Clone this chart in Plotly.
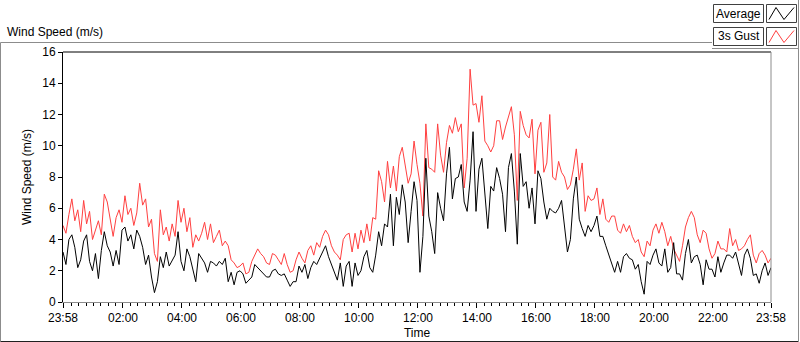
import pandas as pd
import plotly.graph_objects as go

# ---- data (6-minute samples, 23:58 -> 23:58) ----
start_time = "2024-01-01 23:58"
step_minutes = 6

gust = [
    4.9, 4.4, 5.6, 6.6, 5.2, 5.9, 4.5, 6.5, 5.0, 5.8, 4.0, 4.6, 5.2, 4.3, 6.9, 6.4, 5.3, 4.2, 5.4, 5.9,
    5.1, 6.8, 5.6, 6.0, 4.9, 5.7, 7.6, 6.2, 6.6, 4.8, 5.3, 3.1, 2.6, 5.9, 4.3, 4.8, 3.9, 5.0, 4.2, 6.5,
    5.1, 6.0, 4.5, 5.4, 3.5, 4.3, 3.9, 4.4, 5.1, 4.0, 5.0, 3.8, 4.2, 4.6, 3.6, 3.9, 3.6, 2.7, 2.5, 2.2,
    2.3, 2.5, 1.8, 1.9, 2.6, 3.0, 3.4, 3.1, 2.9, 2.5, 2.4, 3.1, 3.0, 2.7, 2.4, 3.1, 2.4, 1.9, 2.0, 2.7,
    3.2, 2.8, 2.5, 3.3, 3.6, 3.0, 3.8, 3.5, 4.2, 4.6, 4.3, 3.6, 3.2, 3.0, 2.7, 4.0, 4.3, 4.4, 3.2, 4.4,
    3.4, 4.6, 3.8, 5.0, 3.9, 5.4, 5.3, 8.4, 7.7, 6.4, 9.0, 7.3, 8.7, 7.1, 9.3, 9.9, 8.6, 7.6, 8.2, 10.3,
    8.8, 7.6, 5.5, 11.4, 8.6, 8.5, 8.3, 11.4, 9.4, 8.3, 10.2, 11.3, 10.8, 11.8, 10.9, 11.4, 7.3, 9.2, 14.9, 12.6,
    12.7, 11.5, 13.2, 10.3, 10.0, 9.6, 10.0, 11.6, 11.6, 10.4, 11.2, 11.8, 12.5, 10.7, 6.5, 12.2, 11.3, 10.7, 10.5, 11.7,
    8.2, 11.0, 11.5, 8.3, 8.9, 12.0, 8.0, 7.8, 9.0, 8.3, 8.0, 7.2, 7.5, 8.5, 9.8, 7.8, 8.9, 5.8, 6.8, 6.5,
    6.6, 7.3, 5.6, 6.6, 5.3, 5.1, 5.5, 5.5, 4.6, 4.4, 5.0, 4.5, 4.9, 4.2, 3.8, 4.0, 3.2, 2.9, 3.9, 3.6,
    4.6, 5.0, 4.4, 5.1, 4.5, 3.6, 4.2, 3.4, 3.0, 2.6, 3.6, 4.8, 5.4, 5.8, 5.4, 4.3, 3.8, 4.6, 4.4, 3.4,
    2.8, 3.1, 3.9, 3.4, 3.4, 3.2, 4.7, 3.6, 4.0, 3.3, 3.4, 3.6, 4.0, 4.3, 3.0, 2.5, 3.1, 3.3, 3.0, 2.5,
    2.8,
]

average = [
    3.2, 2.4, 4.0, 4.3, 3.5, 2.2, 2.7, 3.9, 4.3, 2.6, 2.0, 3.1, 1.5, 3.3, 4.5, 3.6, 3.2, 2.3, 3.3, 2.4,
    4.6, 4.8, 3.9, 4.3, 3.4, 4.6, 4.2, 3.5, 2.4, 3.0, 1.6, 0.6, 1.3, 2.9, 2.2, 3.2, 2.3, 2.7, 3.0, 4.5,
    2.6, 2.0, 3.4, 2.9, 2.1, 1.3, 3.1, 2.8, 2.5, 1.9, 2.6, 2.5, 2.3, 2.6, 2.4, 2.8, 1.3, 1.9, 1.1, 1.9,
    2.0, 1.8, 1.2, 1.4, 1.6, 2.4, 2.2, 2.0, 1.8, 1.6, 1.6, 2.0, 2.1, 1.8, 1.7, 1.8, 1.4, 1.0, 1.3, 1.3,
    2.3, 1.9, 2.4, 1.5, 2.2, 2.6, 2.4, 2.8, 3.3, 3.6, 2.9, 2.4, 1.8, 1.4, 2.5, 1.0, 2.3, 2.6, 1.0, 2.5,
    1.7, 2.0, 2.9, 3.3, 2.2, 1.9, 3.0, 4.5, 3.6, 5.0, 4.8, 6.9, 3.6, 6.7, 5.6, 7.5, 6.4, 3.8, 5.8, 7.7,
    6.5, 1.9, 4.2, 9.2, 5.5, 4.5, 3.1, 7.0, 6.0, 5.2, 8.2, 9.9, 6.6, 7.9, 8.0, 8.8, 6.4, 5.8, 7.8, 10.9,
    5.8, 8.5, 9.2, 7.1, 4.7, 7.4, 7.1, 8.6, 7.9, 6.9, 4.5, 8.6, 9.5, 7.1, 3.7, 9.5, 7.4, 7.7, 6.0, 7.3,
    5.0, 8.4, 7.9, 6.4, 5.3, 6.0, 5.8, 5.7, 6.0, 6.5, 5.0, 3.2, 4.0, 6.6, 8.0, 5.3, 4.7, 4.2, 4.9, 4.5,
    4.9, 5.5, 4.2, 4.2, 3.6, 3.0, 2.5, 1.9, 2.6, 1.9, 2.9, 3.1, 2.8, 2.7, 2.1, 2.4, 1.3, 0.5, 2.6, 2.4,
    3.0, 3.4, 2.5, 2.3, 3.4, 1.9, 2.2, 3.8, 1.8, 1.8, 1.4, 3.1, 4.0, 2.5, 2.9, 3.0, 2.4, 1.1, 2.7, 2.1,
    2.1, 1.6, 2.9, 1.9, 2.5, 3.0, 3.0, 2.8, 3.2, 2.5, 1.7, 3.0, 3.4, 2.8, 1.7, 1.8, 1.2, 2.0, 2.5, 1.7,
    2.2,
]

series_names = ["Average", "3s Gust"]
tick_times = ["2024-01-01 23:58", "2024-01-02 02:00", "2024-01-02 04:00", "2024-01-02 06:00",
              "2024-01-02 08:00", "2024-01-02 10:00", "2024-01-02 12:00", "2024-01-02 14:00",
              "2024-01-02 16:00", "2024-01-02 18:00", "2024-01-02 20:00", "2024-01-02 22:00",
              "2024-01-02 23:58"]
tick_labels = ["23:58", "02:00", "04:00", "06:00", "08:00", "10:00", "12:00", "14:00",
               "16:00", "18:00", "20:00", "22:00", "23:58"]
y_ticks = [0, 2, 4, 6, 8, 10, 12, 14, 16]

times = pd.date_range(start=start_time, periods=len(gust), freq=f"{step_minutes}min")

# ---- layout geometry (pixels) ----
W, H = 800, 342
L, R, T, B = 63, 771, 52, 302
PW, PH = R - L, B - T


def px(x):
    return (x - L) / PW


def py(y):
    return (B - y) / PH


FONT = "Liberation Sans"
RED = "#ff4040"

fig = go.Figure()
fig.add_trace(go.Scatter(x=times, y=gust, mode="lines", name=series_names[1],
                         line=dict(color=RED, width=1), showlegend=False))
fig.add_trace(go.Scatter(x=times, y=average, mode="lines", name=series_names[0],
                         line=dict(color="#000000", width=1), showlegend=False))

shapes = []
gray = "#8c8c8c"
# outer frame
shapes.append(dict(type="line", xref="paper", yref="paper", x0=px(0.5), x1=px(712), y0=py(42.5), y1=py(42.5),
                   line=dict(color=gray, width=1)))
shapes.append(dict(type="line", xref="paper", yref="paper", x0=px(0.5), x1=px(0.5), y0=py(42.5), y1=py(341.5),
                   line=dict(color=gray, width=1)))
shapes.append(dict(type="line", xref="paper", yref="paper", x0=px(0.5), x1=px(798.5), y0=py(341.5), y1=py(341.5),
                   line=dict(color="#202020", width=1)))
shapes.append(dict(type="line", xref="paper", yref="paper", x0=px(798.5), x1=px(798.5), y0=py(0), y1=py(341.5),
                   line=dict(color=gray, width=1)))
shapes.append(dict(type="line", xref="paper", yref="paper", x0=px(712), x1=px(798.5), y0=py(48.5), y1=py(48.5),
                   line=dict(color=gray, width=1)))
# plot frame top (black) and right (gray)
shapes.append(dict(type="line", xref="paper", yref="paper", x0=0, x1=1, y0=1, y1=1,
                   line=dict(color="#000000", width=1)))
shapes.append(dict(type="line", xref="paper", yref="paper", x0=1, x1=1, y0=0, y1=1,
                   line=dict(color=gray, width=1)))

# legend boxes
legend_rows = [(series_names[0], "#000000", 4.5, 22.5), (series_names[1], RED, 27.5, 45.5)]
annotations = []
for name, col, y0, y1 in legend_rows:
    shapes.append(dict(type="rect", xref="paper", yref="paper", x0=px(713.5), x1=px(763.5), y0=py(y1), y1=py(y0),
                       line=dict(color="#404040", width=1), fillcolor="white"))
    shapes.append(dict(type="rect", xref="paper", yref="paper", x0=px(766.5), x1=px(796.5), y0=py(y1), y1=py(y0),
                       line=dict(color="#404040", width=1), fillcolor="white"))
    pts = [(769, y1 - 3), (776, y0 + 3), (784, y1 - 3), (794, y0 + 3)]
    path = "M " + " L ".join(f"{px(a):.5f},{py(b):.5f}" for a, b in pts)
    shapes.append(dict(type="path", xref="paper", yref="paper", path=path, line=dict(color=col, width=1)))
    annotations.append(dict(xref="paper", yref="paper", x=px(738.5), y=py((y0 + y1) / 2), text=name,
                            showarrow=False, xanchor="center", yanchor="middle",
                            font=dict(family=FONT, size=12, color="#000000")))

annotations.append(dict(xref="paper", yref="paper", x=px(5), y=py(32), text="Wind Speed (m/s)",
                        showarrow=False, xanchor="left", yanchor="middle",
                        font=dict(family=FONT, size=12, color="#000000")))

fig.update_layout(
    width=W, height=H,
    margin=dict(l=L, r=W - R, t=T, b=H - B, autoexpand=False),
    paper_bgcolor="white", plot_bgcolor="white",
    font=dict(family=FONT, size=12, color="#000000"),
    shapes=shapes, annotations=annotations,
    showlegend=False,
    xaxis=dict(
        automargin=False,
        range=[times[0], times[-1]],
        tickmode="array", tickvals=pd.to_datetime(tick_times), ticktext=tick_labels,
        ticks="outside", ticklen=5, tickcolor="#000000",
        minor=dict(dtick=15 * 60 * 1000, tick0="2024-01-02 00:00", ticklen=3, tickcolor="#000000", ticks="outside"),
        showgrid=False, zeroline=False,
        showline=True, linecolor=gray, linewidth=1,
        title=dict(text="Time", standoff=4, font=dict(size=12)),
        tickfont=dict(size=12),
    ),
    yaxis=dict(
        automargin=False,
        range=[0, 16], tickmode="array", tickvals=y_ticks,
        ticks="outside", ticklen=4, tickcolor="#000000",
        showgrid=False, zeroline=False,
        showline=True, linecolor="#000000", linewidth=1,
        title=dict(text="Wind Speed (m/s)", standoff=8, font=dict(size=12)),
        tickfont=dict(size=12),
    ),
)

fig.write_html(
    "out.html",
    config={"displayModeBar": False},
    post_script="document.body.style.margin='0';document.body.style.padding='0';document.body.style.overflow='hidden';",
)
